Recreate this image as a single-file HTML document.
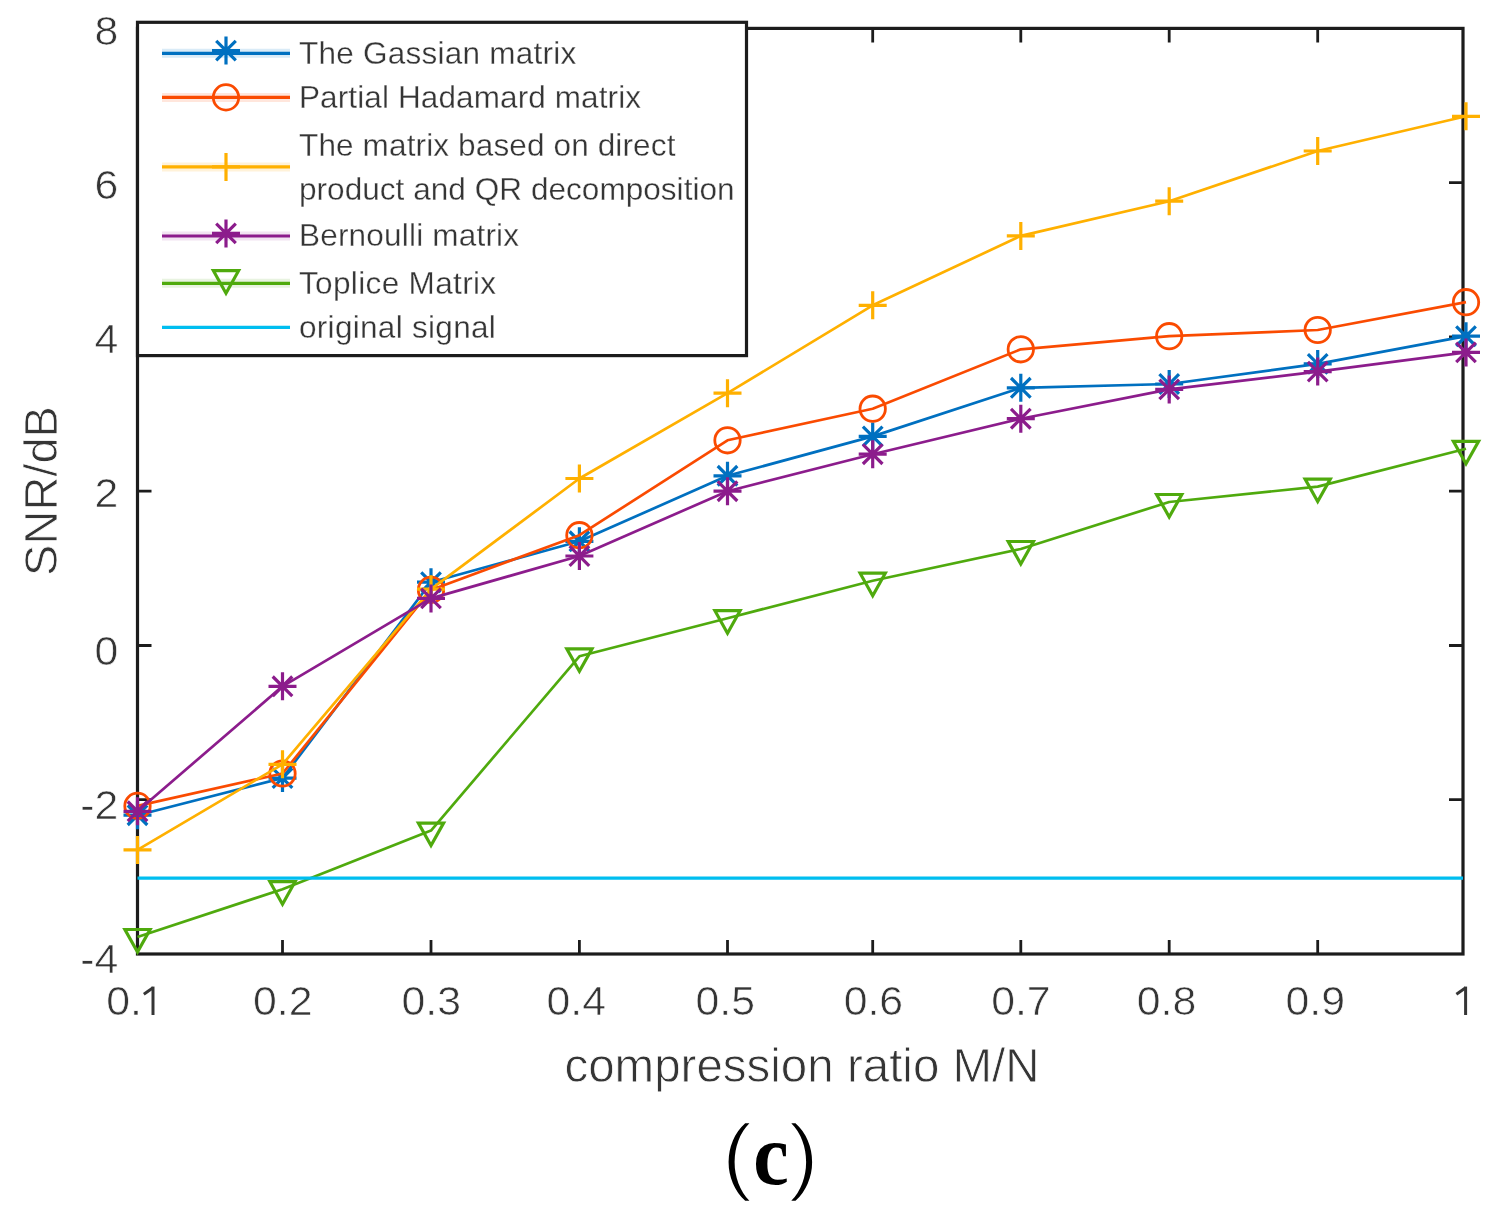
<!DOCTYPE html>
<html><head><meta charset="utf-8"><style>
html,body{margin:0;padding:0;background:#fff;width:1492px;height:1211px;overflow:hidden}
svg{display:block}
</style></head><body>
<svg width="1492" height="1211" viewBox="0 0 1492 1211">
<rect width="1492" height="1211" fill="#fff"/>
<defs><filter id="soft" x="0" y="0" width="100%" height="100%" filterUnits="userSpaceOnUse"><feGaussianBlur stdDeviation="0.5"/></filter></defs>
<g filter="url(#soft)">
<rect width="1492" height="1211" fill="#fff"/>
<g stroke="#1c1c1c" stroke-width="3.2" fill="none">
<rect x="137.5" y="28.4" width="1325.5" height="925.6"/>
<path d="M282.5 954.0V940.0M282.5 28.4V42.4M431.0 954.0V940.0M431.0 28.4V42.4M579.4 954.0V940.0M579.4 28.4V42.4M727.5 954.0V940.0M727.5 28.4V42.4M872.7 954.0V940.0M872.7 28.4V42.4M1020.8 954.0V940.0M1020.8 28.4V42.4M1169.2 954.0V940.0M1169.2 28.4V42.4M1317.7 954.0V940.0M1317.7 28.4V42.4M137.5 799.7H151.5M1463.0 799.7H1449.0M137.5 645.5H151.5M1463.0 645.5H1449.0M137.5 491.2H151.5M1463.0 491.2H1449.0M137.5 336.9H151.5M1463.0 336.9H1449.0M137.5 182.7H151.5M1463.0 182.7H1449.0" stroke-width="2.8"/>
</g>
<polyline points="137.5,815.2 282.5,778.1 431.0,582.2 579.4,541.3 727.5,475.8 872.7,436.4 1020.8,387.8 1169.2,384.0 1317.7,363.9 1466.0,336.2" fill="none" stroke-linejoin="round" stroke="#0070c0" stroke-width="2.7"/>
<path d="M123.5 815.2H151.5M137.5 801.2V829.2M127.7 805.4L147.3 825.0M127.7 825.0L147.3 805.4" stroke="#0070c0" stroke-width="3.2" fill="none"/>
<path d="M268.5 778.1H296.5M282.5 764.1V792.1M272.7 768.3L292.3 787.9M272.7 787.9L292.3 768.3" stroke="#0070c0" stroke-width="3.2" fill="none"/>
<path d="M417.0 582.2H445.0M431.0 568.2V596.2M421.2 572.4L440.8 592.0M421.2 592.0L440.8 572.4" stroke="#0070c0" stroke-width="3.2" fill="none"/>
<path d="M565.4 541.3H593.4M579.4 527.3V555.3M569.6 531.5L589.2 551.1M569.6 551.1L589.2 531.5" stroke="#0070c0" stroke-width="3.2" fill="none"/>
<path d="M713.5 475.8H741.5M727.5 461.8V489.8M717.7 466.0L737.3 485.6M717.7 485.6L737.3 466.0" stroke="#0070c0" stroke-width="3.2" fill="none"/>
<path d="M858.7 436.4H886.7M872.7 422.4V450.4M862.9 426.6L882.5 446.2M862.9 446.2L882.5 426.6" stroke="#0070c0" stroke-width="3.2" fill="none"/>
<path d="M1006.8 387.8H1034.8M1020.8 373.8V401.8M1011.0 378.0L1030.6 397.6M1011.0 397.6L1030.6 378.0" stroke="#0070c0" stroke-width="3.2" fill="none"/>
<path d="M1155.2 384.0H1183.2M1169.2 370.0V398.0M1159.4 374.2L1179.0 393.8M1159.4 393.8L1179.0 374.2" stroke="#0070c0" stroke-width="3.2" fill="none"/>
<path d="M1303.7 363.9H1331.7M1317.7 349.9V377.9M1307.9 354.1L1327.5 373.7M1307.9 373.7L1327.5 354.1" stroke="#0070c0" stroke-width="3.2" fill="none"/>
<path d="M1452.0 336.2H1480.0M1466.0 322.2V350.2M1456.2 326.4L1475.8 346.0M1456.2 346.0L1475.8 326.4" stroke="#0070c0" stroke-width="3.2" fill="none"/>
<polyline points="137.5,805.9 282.5,773.5 431.0,589.9 579.4,535.2 727.5,440.3 872.7,408.7 1020.8,349.3 1169.2,336.2 1317.7,330.0 1466.0,302.2" fill="none" stroke-linejoin="round" stroke="#fa4b05" stroke-width="2.7"/>
<circle cx="137.5" cy="805.9" r="12.7" stroke="#fa4b05" stroke-width="2.8" fill="none"/>
<circle cx="282.5" cy="773.5" r="12.7" stroke="#fa4b05" stroke-width="2.8" fill="none"/>
<circle cx="431.0" cy="589.9" r="12.7" stroke="#fa4b05" stroke-width="2.8" fill="none"/>
<circle cx="579.4" cy="535.2" r="12.7" stroke="#fa4b05" stroke-width="2.8" fill="none"/>
<circle cx="727.5" cy="440.3" r="12.7" stroke="#fa4b05" stroke-width="2.8" fill="none"/>
<circle cx="872.7" cy="408.7" r="12.7" stroke="#fa4b05" stroke-width="2.8" fill="none"/>
<circle cx="1020.8" cy="349.3" r="12.7" stroke="#fa4b05" stroke-width="2.8" fill="none"/>
<circle cx="1169.2" cy="336.2" r="12.7" stroke="#fa4b05" stroke-width="2.8" fill="none"/>
<circle cx="1317.7" cy="330.0" r="12.7" stroke="#fa4b05" stroke-width="2.8" fill="none"/>
<circle cx="1466.0" cy="302.2" r="12.7" stroke="#fa4b05" stroke-width="2.8" fill="none"/>
<polyline points="137.5,849.9 282.5,764.3 431.0,589.2 579.4,478.5 727.5,393.2 872.7,305.3 1020.8,235.9 1169.2,201.2 1317.7,151.0 1466.0,116.3" fill="none" stroke-linejoin="round" stroke="#ffb000" stroke-width="2.7"/>
<path d="M123.5 849.9H151.5M137.5 835.9V863.9" stroke="#ffb000" stroke-width="3.2" fill="none"/>
<path d="M268.5 764.3H296.5M282.5 750.3V778.3" stroke="#ffb000" stroke-width="3.2" fill="none"/>
<path d="M417.0 589.2H445.0M431.0 575.2V603.2" stroke="#ffb000" stroke-width="3.2" fill="none"/>
<path d="M565.4 478.5H593.4M579.4 464.5V492.5" stroke="#ffb000" stroke-width="3.2" fill="none"/>
<path d="M713.5 393.2H741.5M727.5 379.2V407.2" stroke="#ffb000" stroke-width="3.2" fill="none"/>
<path d="M858.7 305.3H886.7M872.7 291.3V319.3" stroke="#ffb000" stroke-width="3.2" fill="none"/>
<path d="M1006.8 235.9H1034.8M1020.8 221.9V249.9" stroke="#ffb000" stroke-width="3.2" fill="none"/>
<path d="M1155.2 201.2H1183.2M1169.2 187.2V215.2" stroke="#ffb000" stroke-width="3.2" fill="none"/>
<path d="M1303.7 151.0H1331.7M1317.7 137.0V165.0" stroke="#ffb000" stroke-width="3.2" fill="none"/>
<path d="M1452.0 116.3H1480.0M1466.0 102.3V130.3" stroke="#ffb000" stroke-width="3.2" fill="none"/>
<polyline points="137.5,811.3 282.5,686.3 431.0,598.4 579.4,556.0 727.5,491.2 872.7,454.2 1020.8,418.7 1169.2,389.4 1317.7,371.6 1466.0,352.4" fill="none" stroke-linejoin="round" stroke="#8c1e8c" stroke-width="2.7"/>
<path d="M123.5 811.3H151.5M137.5 797.3V825.3M127.7 801.5L147.3 821.1M127.7 821.1L147.3 801.5" stroke="#8c1e8c" stroke-width="3.2" fill="none"/>
<path d="M268.5 686.3H296.5M282.5 672.3V700.3M272.7 676.5L292.3 696.1M272.7 696.1L292.3 676.5" stroke="#8c1e8c" stroke-width="3.2" fill="none"/>
<path d="M417.0 598.4H445.0M431.0 584.4V612.4M421.2 588.6L440.8 608.2M421.2 608.2L440.8 588.6" stroke="#8c1e8c" stroke-width="3.2" fill="none"/>
<path d="M565.4 556.0H593.4M579.4 542.0V570.0M569.6 546.2L589.2 565.8M569.6 565.8L589.2 546.2" stroke="#8c1e8c" stroke-width="3.2" fill="none"/>
<path d="M713.5 491.2H741.5M727.5 477.2V505.2M717.7 481.4L737.3 501.0M717.7 501.0L737.3 481.4" stroke="#8c1e8c" stroke-width="3.2" fill="none"/>
<path d="M858.7 454.2H886.7M872.7 440.2V468.2M862.9 444.4L882.5 464.0M862.9 464.0L882.5 444.4" stroke="#8c1e8c" stroke-width="3.2" fill="none"/>
<path d="M1006.8 418.7H1034.8M1020.8 404.7V432.7M1011.0 408.9L1030.6 428.5M1011.0 428.5L1030.6 408.9" stroke="#8c1e8c" stroke-width="3.2" fill="none"/>
<path d="M1155.2 389.4H1183.2M1169.2 375.4V403.4M1159.4 379.6L1179.0 399.2M1159.4 399.2L1179.0 379.6" stroke="#8c1e8c" stroke-width="3.2" fill="none"/>
<path d="M1303.7 371.6H1331.7M1317.7 357.6V385.6M1307.9 361.8L1327.5 381.4M1307.9 381.4L1327.5 361.8" stroke="#8c1e8c" stroke-width="3.2" fill="none"/>
<path d="M1452.0 352.4H1480.0M1466.0 338.4V366.4M1456.2 342.6L1475.8 362.2M1456.2 362.2L1475.8 342.6" stroke="#8c1e8c" stroke-width="3.2" fill="none"/>
<polyline points="137.5,937.0 282.5,889.2 431.0,830.6 579.4,656.3 727.5,618.2 872.7,580.7 1020.8,549.0 1169.2,502.0 1317.7,486.6 1466.0,448.8" fill="none" stroke-linejoin="round" stroke="#50aa10" stroke-width="2.7"/>
<path d="M124.9 929.5H150.1L137.5 952.0Z" stroke="#50aa10" stroke-width="3.2" fill="none" stroke-linejoin="miter"/>
<path d="M269.9 881.7H295.1L282.5 904.2Z" stroke="#50aa10" stroke-width="3.2" fill="none" stroke-linejoin="miter"/>
<path d="M418.4 823.1H443.6L431.0 845.6Z" stroke="#50aa10" stroke-width="3.2" fill="none" stroke-linejoin="miter"/>
<path d="M566.8 648.8H592.0L579.4 671.3Z" stroke="#50aa10" stroke-width="3.2" fill="none" stroke-linejoin="miter"/>
<path d="M714.9 610.7H740.1L727.5 633.2Z" stroke="#50aa10" stroke-width="3.2" fill="none" stroke-linejoin="miter"/>
<path d="M860.1 573.2H885.3L872.7 595.7Z" stroke="#50aa10" stroke-width="3.2" fill="none" stroke-linejoin="miter"/>
<path d="M1008.2 541.5H1033.4L1020.8 564.0Z" stroke="#50aa10" stroke-width="3.2" fill="none" stroke-linejoin="miter"/>
<path d="M1156.6 494.5H1181.8L1169.2 517.0Z" stroke="#50aa10" stroke-width="3.2" fill="none" stroke-linejoin="miter"/>
<path d="M1305.1 479.1H1330.3L1317.7 501.6Z" stroke="#50aa10" stroke-width="3.2" fill="none" stroke-linejoin="miter"/>
<path d="M1453.4 441.3H1478.6L1466.0 463.8Z" stroke="#50aa10" stroke-width="3.2" fill="none" stroke-linejoin="miter"/>
<line x1="137.5" y1="878.2" x2="1463.0" y2="878.2" stroke="#00bef0" stroke-width="3.2"/>
<g font-family="Liberation Sans, sans-serif" font-size="40" fill="#363636" stroke="#fff" stroke-width="0.6">
<text transform="translate(118.3 44.5) scale(1.07 1)" text-anchor="end">8</text>
<text transform="translate(118.3 199.0) scale(1.07 1)" text-anchor="end">6</text>
<text transform="translate(118.3 352.5) scale(1.07 1)" text-anchor="end">4</text>
<text transform="translate(118.3 507.0) scale(1.07 1)" text-anchor="end">2</text>
<text transform="translate(118.3 664.5) scale(1.07 1)" text-anchor="end">0</text>
<text transform="translate(118.3 818.5) scale(1.07 1)" text-anchor="end">-2</text>
<text transform="translate(118.3 973.0) scale(1.07 1)" text-anchor="end">-4</text>
<text transform="translate(106.3 1015) scale(1.07 1)">0.</text>
<text transform="translate(282.8 1015) scale(1.07 1)" text-anchor="middle">0.2</text>
<text transform="translate(431.2 1015) scale(1.07 1)" text-anchor="middle">0.3</text>
<text transform="translate(576.3 1015) scale(1.07 1)" text-anchor="middle">0.4</text>
<text transform="translate(725.2 1015) scale(1.07 1)" text-anchor="middle">0.5</text>
<text transform="translate(873.4 1015) scale(1.07 1)" text-anchor="middle">0.6</text>
<text transform="translate(1020.9 1015) scale(1.07 1)" text-anchor="middle">0.7</text>
<text transform="translate(1166.5 1015) scale(1.07 1)" text-anchor="middle">0.8</text>
<text transform="translate(1315.2 1015) scale(1.07 1)" text-anchor="middle">0.9</text>
</g>
<path d="M151.5 986.6H154.5V1015.0H151.5Z" fill="#363636"/><path d="M153.0 987.8L143.8 994.2" stroke="#363636" stroke-width="2.9" fill="none"/>
<path d="M1464.1 986.6H1467.1V1015.0H1464.1Z" fill="#363636"/><path d="M1465.6 987.8L1456.4 994.2" stroke="#363636" stroke-width="2.9" fill="none"/>
<g>
</g>
<text x="802" y="1081.5" font-family="Liberation Sans, sans-serif" font-size="47.5" fill="#363636" stroke="#fff" stroke-width="0.8" text-anchor="middle">compression ratio M/N</text>
<text transform="translate(56.5 491) rotate(-90)" font-family="Liberation Sans, sans-serif" font-size="47" fill="#363636" stroke="#fff" stroke-width="0.8" text-anchor="middle">SNR/dB</text>
<rect x="137.5" y="22.3" width="609.0" height="333.3" fill="#fff" stroke="#1c1c1c" stroke-width="3.2"/>
<line x1="162" y1="53.3" x2="290" y2="53.3" stroke="#d9ebf7" stroke-width="9"/>
<line x1="162" y1="53.3" x2="290" y2="53.3" stroke="#0070c0" stroke-width="3.2"/>
<path d="M212.0 50.6H240.0M226.0 36.6V64.6M216.2 40.8L235.8 60.4M216.2 60.4L235.8 40.8" stroke="#0070c0" stroke-width="3.2" fill="none"/>
<line x1="162" y1="97.4" x2="290" y2="97.4" stroke="#ffe6dc" stroke-width="9"/>
<line x1="162" y1="97.4" x2="290" y2="97.4" stroke="#fa4b05" stroke-width="3.2"/>
<circle cx="226.0" cy="97.4" r="12.7" stroke="#fa4b05" stroke-width="2.8" fill="none"/>
<line x1="162" y1="166.9" x2="290" y2="166.9" stroke="#fff2d9" stroke-width="9"/>
<line x1="162" y1="166.9" x2="290" y2="166.9" stroke="#ffb000" stroke-width="3.2"/>
<path d="M212.0 166.9H240.0M226.0 152.9V180.9" stroke="#ffb000" stroke-width="3.2" fill="none"/>
<line x1="162" y1="236.0" x2="290" y2="236.0" stroke="#f2e4f2" stroke-width="9"/>
<line x1="162" y1="236.0" x2="290" y2="236.0" stroke="#8c1e8c" stroke-width="3.2"/>
<path d="M212.0 233.4H240.0M226.0 219.4V247.4M216.2 223.6L235.8 243.2M216.2 243.2L235.8 223.6" stroke="#8c1e8c" stroke-width="3.2" fill="none"/>
<line x1="162" y1="283.3" x2="290" y2="283.3" stroke="#e8f3e0" stroke-width="9"/>
<line x1="162" y1="283.3" x2="290" y2="283.3" stroke="#50aa10" stroke-width="3.2"/>
<path d="M213.4 270.7H238.6L226.0 293.2Z" stroke="#50aa10" stroke-width="3.2" fill="none" stroke-linejoin="miter"/>
<line x1="162" y1="327.4" x2="290" y2="327.4" stroke="#00bef0" stroke-width="3.2"/>
<g font-family="Liberation Sans, sans-serif" font-size="31.5" fill="#363636" stroke="#fff" stroke-width="0.3">
<text x="299" y="64.2" letter-spacing="0.25">The Gassian matrix</text>
<text x="299" y="108.4" letter-spacing="0.11">Partial Hadamard matrix</text>
<text x="299" y="156.1" letter-spacing="0.14">The matrix based on direct</text>
<text x="299" y="199.5" letter-spacing="0.05">product and QR decomposition</text>
<text x="299" y="246.4" letter-spacing="0.2">Bernoulli matrix</text>
<text x="299" y="293.6" letter-spacing="0.35">Toplice Matrix</text>
<text x="299" y="338.3" letter-spacing="0.3">original signal</text>
</g>
<text transform="translate(753.2 1184) scale(0.92 1)" font-family="Liberation Serif, serif" font-weight="bold" font-size="87" fill="#000">c</text>
<path d="M745.2 1123.2A45 50 0 0 0 745.2 1200.8L749.4 1200.8A40.1 50 0 0 1 749.4 1123.2Z" fill="#000"/>
<path d="M795.5 1123.2A45 50 0 0 1 795.5 1200.8L791.3 1200.8A40.1 50 0 0 0 791.3 1123.2Z" fill="#000"/>
</g>
</svg>
</body></html>
